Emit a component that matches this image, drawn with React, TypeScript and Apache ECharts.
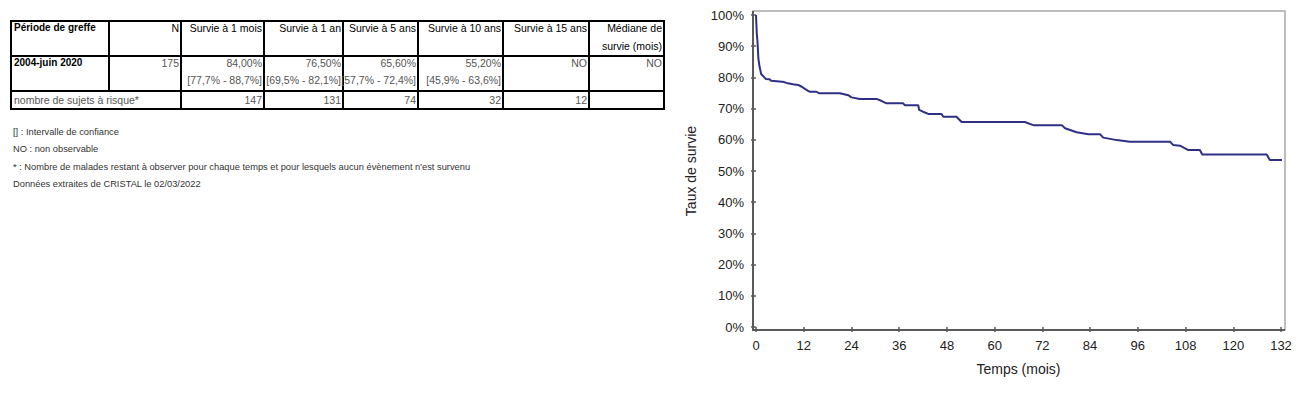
import React, { useEffect, useRef } from "react";
import * as echarts from "echarts";

// ---------- Table data ----------
const tableHeaders = [
  "Période de greffe",
  "N",
  "Survie à 1 mois",
  "Survie à 1 an",
  "Survie à 5 ans",
  "Survie à 10 ans",
  "Survie à 15 ans",
  "Médiane de\nsurvie (mois)",
];
const periodLabel = "2004-juin 2020";
const patientCount = "175";
const survivalRates = ["84,00%", "76,50%", "65,60%", "55,20%", "NO", "NO"];
const confidenceIntervals = ["[77,7% - 88,7%]", "[69,5% - 82,1%]", "[57,7% - 72,4%]", "[45,9% - 63,6%]", "", ""];
const atRiskLabel = "nombre de sujets à risque*";
const atRiskCounts = ["147", "131", "74", "32", "12", ""];
const footnotes = [
  "[] : Intervalle de confiance",
  "NO : non observable",
  "* : Nombre de malades restant à observer pour chaque temps et pour lesquels aucun évènement n'est survenu",
  "Données extraites de CRISTAL le 02/03/2022",
];

// ---------- Survival curve (months, % survival) ----------
const months = [
  0, 0.2, 0.4, 0.6, 0.9, 1.3, 2.1, 2.5, 3.4, 3.8, 5.9, 7.1, 8.0, 9.3, 10.6, 11.5, 12.3, 13.1, 13.6, 15.2,
  15.9, 21.1, 23.2, 24.0, 26.1, 30.3, 31.5, 32.8, 37.0, 37.4, 40.8, 41.0, 42.0, 43.3, 46.6, 47.1, 50.4, 51.7,
  67.6, 69.7, 76.9, 77.7, 80.6, 83.6, 86.5, 87.3, 90.7, 94.0, 104.1, 104.9, 106.6, 108.7, 111.6, 112.2,
  128.4, 129.2, 132.8,
];
const survival = [
  100, 94, 91, 86, 83.4, 81.1, 80, 79.5, 79.4, 78.9, 78.7, 78.5, 78.1, 77.8, 77.6, 77, 76.3, 75.7, 75.4, 75.4,
  74.9, 74.9, 74.3, 73.6, 73.1, 73.1, 72.5, 71.7, 71.7, 71.1, 71.1, 69.6, 69.0, 68.3, 68.3, 67.4, 67.4, 65.7,
  65.7, 64.7, 64.7, 63.7, 62.4, 61.8, 61.8, 60.7, 59.9, 59.4, 59.4, 58.3, 58.1, 56.7, 56.7, 55.3,
  55.3, 53.5, 53.5,
];
const xTicksInterval = 12;
const yTicksInterval = 10;

const FONT = "'Liberation Sans', Arial, Helvetica, sans-serif";

export default function App() {
  const ref = useRef<HTMLDivElement>(null);

  useEffect(() => {
    if (!ref.current) return;
    const chart = echarts.init(ref.current, undefined, { renderer: "svg" });

    const colX = [11, 109, 181, 264, 343, 418, 503, 589, 664];
    const rowY = [21, 56, 91, 109];
    const g: any[] = [];
    const lineStyle = { stroke: "#000", lineWidth: 2 };

    rowY.forEach((y) =>
      g.push({ type: "line", shape: { x1: colX[0] - 1, y1: y, x2: colX[8] + 1, y2: y }, style: lineStyle })
    );
    colX.forEach((x, i) => {
      const y2 = i === 1 ? rowY[2] : rowY[3];
      g.push({ type: "line", shape: { x1: x, y1: rowY[0], x2: x, y2 }, style: lineStyle });
    });

    const txt = (text: string, x: number, y: number, align: string, fill: string, size = 10.5, weight = "normal") =>
      g.push({
        type: "text",
        x,
        y,
        style: { text, fill, font: `${weight} ${size}px ${FONT}`, align, verticalAlign: "middle" },
      });

    tableHeaders.forEach((h, i) => {
      h.split("\n").forEach((line, j) => {
        const y = 27.5 + j * 18;
        if (i === 0) txt(line, colX[0] + 3, y, "left", "#000", 10, "bold");
        else txt(line, colX[i + 1] - 2, y, "right", "#000");
      });
    });
    txt(periodLabel, colX[0] + 3, 62.5, "left", "#000", 10, "bold");
    txt(patientCount, colX[2] - 2, 62.5, "right", "#555");
    survivalRates.forEach((v, i) => txt(v, colX[i + 3] - 2, 62.5, "right", "#555"));
    confidenceIntervals.forEach((v, i) => v && txt(v, colX[i + 3] - 2, 80, "right", "#555"));
    txt(atRiskLabel, colX[0] + 3, 99.5, "left", "#555");
    atRiskCounts.forEach((v, i) => v && txt(v, colX[i + 3] - 2, 99.5, "right", "#555"));
    footnotes.forEach((f, i) => txt(f, 13, 131.5 + i * 17.5, "left", "#333", 9.3));

    // chart frame
    g.push({
      type: "rect",
      shape: { x: 753, y: 11, width: 532, height: 319 },
      style: { fill: "none", stroke: "#a8a8a8", lineWidth: 1.5 },
    });
    g.push({ type: "line", shape: { x1: 753, y1: 11, x2: 753, y2: 331 }, style: { stroke: "#5a5a5a", lineWidth: 2 } });
    g.push({ type: "line", shape: { x1: 752, y1: 330, x2: 1285, y2: 330 }, style: { stroke: "#5a5a5a", lineWidth: 2 } });

    chart.setOption({
      animation: false,
      textStyle: { fontFamily: FONT },
      graphic: { elements: g },
      grid: { left: 756, right: 19, top: 15, bottom: 67 },
      xAxis: {
        type: "value",
        min: 0,
        max: 132,
        interval: xTicksInterval,
        offset: 3,
        axisLine: { show: false },
        axisTick: { show: true, length: 5, lineStyle: { color: "#5a5a5a", width: 1.5 } },
        axisLabel: { color: "#222", fontSize: 13, margin: 9, fontFamily: FONT },
        splitLine: { show: false },
        name: "Temps (mois)",
        nameLocation: "middle",
        nameGap: 32,
        nameTextStyle: { color: "#222", fontSize: 14, fontFamily: FONT },
      },
      yAxis: {
        type: "value",
        min: 0,
        max: 100,
        interval: yTicksInterval,
        offset: 3,
        axisLine: { show: false },
        axisTick: { show: true, length: 5, lineStyle: { color: "#5a5a5a", width: 1.5 } },
        axisLabel: { color: "#222", fontSize: 13, margin: 9, formatter: "{value}%", fontFamily: FONT },
        splitLine: { show: false },
        name: "Taux de survie",
        nameLocation: "middle",
        nameGap: 55,
        nameTextStyle: { color: "#222", fontSize: 14, fontFamily: FONT },
      },
      series: [
        {
          type: "line",
          data: months.map((m, i) => [m, survival[i]]),
          showSymbol: false,
          clip: false,
          silent: true,
          lineStyle: { color: "#2e3085", width: 2 },
        },
      ],
    });

    return () => chart.dispose();
  }, []);

  return (
    <div
      ref={ref}
      style={{ position: "fixed", left: 0, top: 0, width: 1300, height: 394, background: "#fff" }}
    />
  );
}
